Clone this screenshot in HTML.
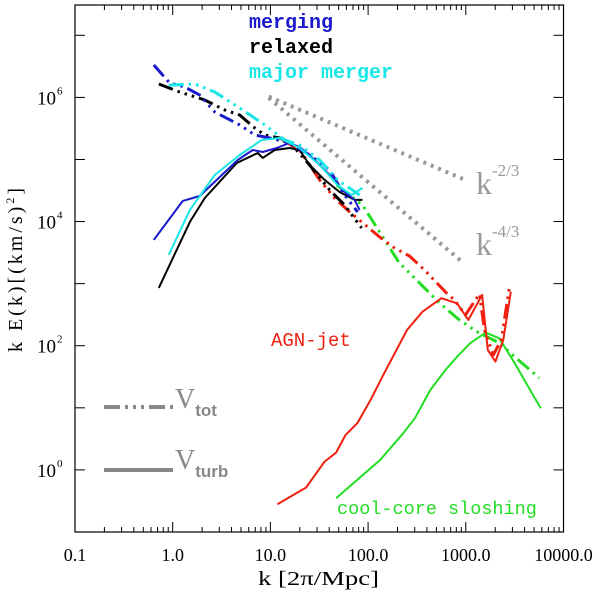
<!DOCTYPE html>
<html><head><meta charset="utf-8"><style>
html,body{margin:0;padding:0;background:#fff;}
svg{display:block;font-family:"Liberation Sans",sans-serif;}
</style></head><body>
<svg id="chart" width="600" height="593" viewBox="0 0 600 593" xmlns="http://www.w3.org/2000/svg">
<g id="plot"></g>
<rect x="75" y="5" width="488.5" height="527" fill="none" stroke="#000" stroke-width="1.2"/>
<g id="axes"></g>
<text x="258" y="585" font-size="20" textLength="121" lengthAdjust="spacingAndGlyphs" font-family="Liberation Serif, serif">k [2π/Mpc]</text>
<text transform="translate(22,352) rotate(-90)" font-size="20" textLength="164" lengthAdjust="spacing" font-family="Liberation Serif, serif">k  E(k)[(km/s)<tspan dy="-8" font-size="12">2</tspan><tspan dy="8">]</tspan></text>
<text x="249" y="28" font-size="20" font-weight="bold" font-family="Liberation Mono, monospace" fill="#1a1acc">merging</text>
<text x="249" y="53" font-size="20" font-weight="bold" font-family="Liberation Mono, monospace" fill="#000">relaxed</text>
<text x="249" y="78" font-size="20" font-weight="bold" font-family="Liberation Mono, monospace" fill="#19e6e6">major merger</text>
<text x="271" y="346" font-size="19" font-family="Liberation Mono, monospace" fill="#f02010">AGN-jet</text>
<text x="337" y="514" font-size="18.5" font-family="Liberation Mono, monospace" fill="#22dd22">cool-core sloshing</text>
<text x="476" y="194" font-size="32" font-family="Liberation Serif, serif" fill="#999">k<tspan dy="-18" font-size="17">-2/3</tspan></text>
<text x="476" y="255" font-size="32" font-family="Liberation Serif, serif" fill="#999">k<tspan dy="-18" font-size="17">-4/3</tspan></text>
<line x1="104" y1="407" x2="173" y2="407" stroke="#888" stroke-width="4" stroke-dasharray="16 5 3 5 3 5 3 5"/>
<text x="175" y="408" font-size="28" font-family="Liberation Serif, serif" fill="#888">V<tspan dy="8" font-size="17" font-weight="bold" font-family="Liberation Sans, sans-serif">tot</tspan></text>
<line x1="104" y1="470" x2="173" y2="470" stroke="#888" stroke-width="4"/>
<text x="175" y="469" font-size="28" font-family="Liberation Serif, serif" fill="#888">V<tspan dy="8" font-size="17" font-weight="bold" font-family="Liberation Sans, sans-serif">turb</tspan></text>
</svg>
<script>
// ---- data ----
const mergingTurbK=[0.64,1.27,1.89,4.63,6.59,8.35,11.6,15.7,19.9,28.4,40.4,57.4,72.7,81.8];
const mergingTurbE=[5060,21500,25800,98000,142000,132000,153000,184000,159000,98000,56300,30000,22300,15400];
const mergingTotK=[0.64,0.93,1.33,1.89,2.70,4.85,6.92,9.84,15.7,25.2,40.4,57.4,78.0];
const mergingTotE=[3.32e6,1.71e6,1.47e6,1.09e6,582000,360000,248000,222000,184000,118000,67800,26800,14300];
const relaxedTurbK=[0.72,1.50,2.13,4.53,7.41,8.35,11.1,15.7,19.9,25.2,28.4,35.9,50.8,72.7,87.7];
const relaxedTurbE=[853,9860,24000,87900,127000,106000,142000,153000,142000,81500,67800,46800,30000,22300,22300];
const relaxedTotK=[0.72,1.18,2.13,3.41,4.85,6.92,8.75,12.4,15.7,25.2,40.4,57.4,85.7];
const relaxedTotE=[1.64e6,1.22e6,908000,627000,521000,321000,248000,222000,191000,81500,32300,18500,7890];
const majorTurbK=[0.91,1.50,2.70,4.85,8.15,12.4,19.9,31.9,48.7,67.8,87.7];
const majorTurbE=[2900,15400,56300,118000,206000,222000,153000,81500,38800,26800,34800];
const majorTotK=[0.91,1.68,2.70,4.85,8.75,14.0,19.9,31.9,48.7,81.8];
const majorTotE=[1.58e6,1.64e6,1.22e6,675000,360000,206000,171000,98000,46800,26800];
const agnTurbK=[11.8,23.2,35.9,47.0,58.8,77.5,106,146,251,360,563,815,1060,1470,1680,2010,2420,2890];
const agnTurbE=[0.28,0.52,1.36,1.90,3.66,5.65,13.4,36.1,180,354,582,483,260,658,85.6,55.5,124,743];
const agnTotK=[13.4,19.9,31.9,45.4,64.6,85.7,131,186,265,378,634,765,991,1380,1550,1910,2310,2790];
const agnTotE=[206000,142000,46800,24000,14300,9860,5650,3760,2790,1660,708,547,313,683,180,71,124,853];
const slosTurbK=[47.0,133,229,301,433,618,815,1110,1600,2200,3170,4550,5860];
const slosTurbE=[0.35,1.45,3.90,6.81,19.4,40.7,66.7,110,163,132,52.2,19.4,9.84];
const slosTotK=[47.6,87.7,131,209,336,537,861,1310,2200,3170,5650];
const slosTotE=[38800,18500,6800,2150,1030,489,260,167,111,66,30.3];
const refK=[9.6,933];
const refAmp23=1.03e6, refAmp43=9.8e5;
const xTickLabels=["0.1","1.0","10.0","100.0","1000.0","10000.0"];
const xTickVals=[0.1,1,10,100,1000,10000];
const yTickExps=[0,2,4,6];

// ---- axes ----
const X0=75,X1=563.5,Y0=532,Y1=5;
const lxMin=-1,lxMax=4,lyMin=-1,lyMax=7.488;
function sx(k){return X0+(Math.log10(k)-lxMin)/(lxMax-lxMin)*(X1-X0);}
function sy(e){return Y0-(Math.log10(e)-lyMin)/(lyMax-lyMin)*(Y0-Y1);}
const NS="http://www.w3.org/2000/svg";
const plot=document.getElementById('plot');
const axes=document.getElementById('axes');
function mk(tag,attrs,parent){const el=document.createElementNS(NS,tag);for(const k in attrs)el.setAttribute(k,attrs[k]);parent.appendChild(el);return el;}

for(let d=-1;d<4;d++){
  for(let m=1;m<10;m++){
    const v=m*Math.pow(10,d);
    const x=sx(v);const len=m===1?10:5;
    if(m===1&&d===-1)continue;
    const t1=mk('line',{x1:x,y1:Y0,x2:x,y2:Y0-len,stroke:'#000','stroke-width':1},axes);
    
    
    const t2=mk('line',{x1:x,y1:Y1,x2:x,y2:Y1+len,stroke:'#000','stroke-width':1},axes);
    
    
  }
}
xTickVals.forEach((v,i)=>{
  const t=mk('text',{x:sx(v),y:561,'font-size':18,'text-anchor':'middle','font-family':'Liberation Serif, serif'},axes);
  t.textContent=xTickLabels[i];
  
  
});
for(let e=0;e<=7;e++){
  const y=sy(Math.pow(10,e));
  const a=mk('line',{x1:X0,y1:y,x2:X0+10,y2:y,stroke:'#000','stroke-width':1},axes);
  
  
  const b=mk('line',{x1:X1,y1:y,x2:X1-10,y2:y,stroke:'#000','stroke-width':1},axes);
  
  
}
yTickExps.forEach(e=>{
  const y=sy(Math.pow(10,e));
  const t=mk('text',{x:56,y:y+7,'font-size':19,'text-anchor':'end','font-family':'Liberation Serif, serif'},axes);
  t.textContent='10';
  
  
  const s=mk('text',{x:57,y:y-3,'font-size':11,'font-family':'Liberation Serif, serif'},axes);
  s.textContent=String(e);
  
  
});

function path(K,E){return K.map((k,i)=>(i?'L':'M')+sx(k).toFixed(1)+','+sy(E[i]).toFixed(1)).join(' ');}
const TOT='15 5 2.5 5 2.5 5 2.5 5';
function series(K,E,color,tot,name){
  const p=mk('path',{d:path(K,E),fill:'none',stroke:color,'stroke-width':tot?3:2,'stroke-linejoin':'round'},plot);
  if(tot)p.setAttribute('stroke-dasharray',TOT);
  
  
}
const r1=mk('path',{d:path(refK,refK.map(k=>refAmp23*Math.pow(k/refK[0],-2/3))),fill:'none',stroke:'#999','stroke-width':4,'stroke-dasharray':'3 5'},plot);


const r2=mk('path',{d:path(refK,refK.map(k=>refAmp43*Math.pow(k/refK[0],-4/3))),fill:'none',stroke:'#999','stroke-width':4,'stroke-dasharray':'3 5'},plot);



series(slosTurbK,slosTurbE,'#22dd22',false,'sloshing-vturb');
series(slosTotK,slosTotE,'#22dd22',true,'sloshing-vtot');
series(agnTurbK,agnTurbE,'#f02010',false,'agn-vturb');
series(agnTotK,agnTotE,'#f02010',true,'agn-vtot');
series(relaxedTurbK,relaxedTurbE,'#000',false,'relaxed-vturb');
series(relaxedTotK,relaxedTotE,'#000',true,'relaxed-vtot');
series(mergingTurbK,mergingTurbE,'#1a1acc',false,'merging-vturb');
series(mergingTotK,mergingTotE,'#1a1acc',true,'merging-vtot');
series(majorTurbK,majorTurbE,'#19e6e6',false,'major-merger-vturb');
series(majorTotK,majorTotE,'#19e6e6',true,'major-merger-vtot');
</script>
</body></html>
